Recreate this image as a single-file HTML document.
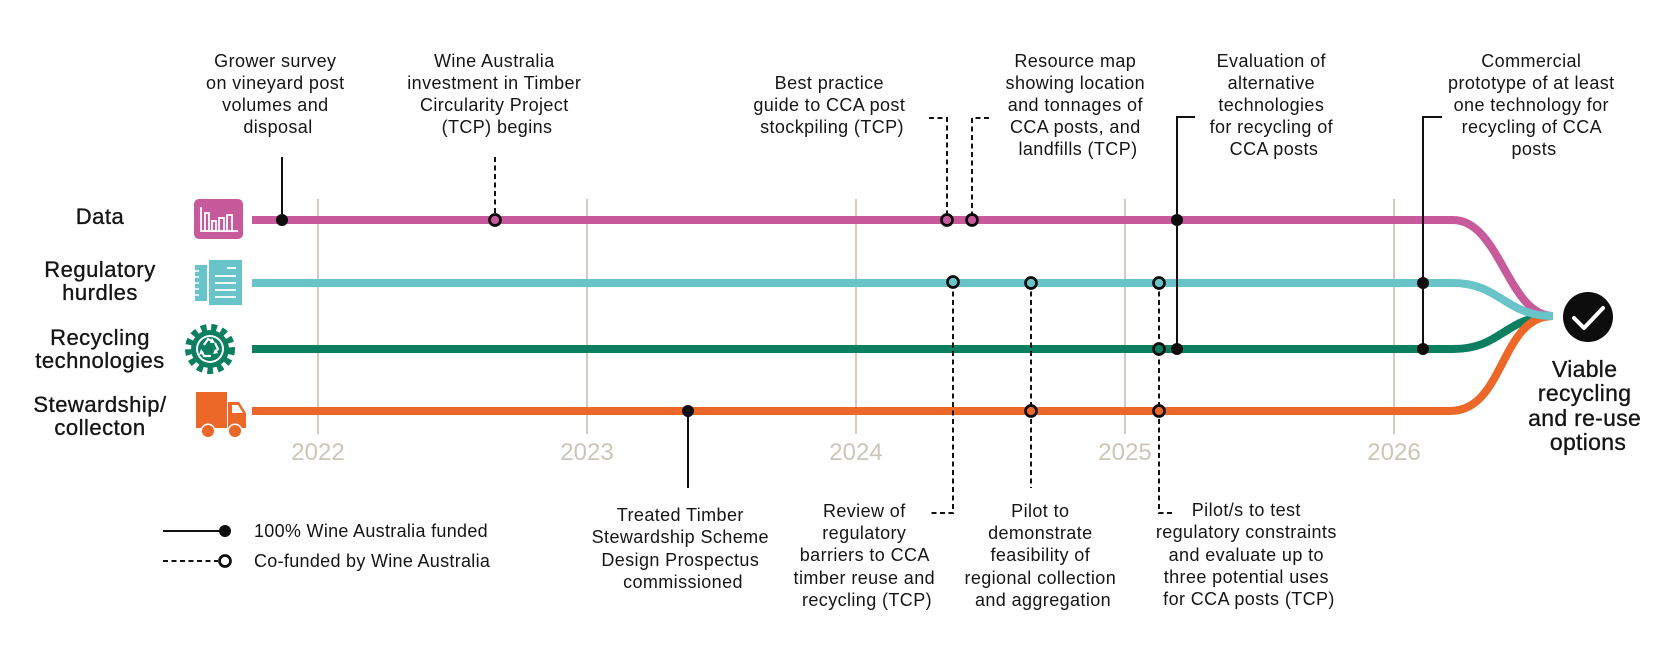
<!DOCTYPE html>
<html>
<head>
<meta charset="utf-8">
<style>
  html, body { margin:0; padding:0; background:#fff; }
  svg { display:block; }
  text { font-family: "Liberation Sans", "DejaVu Sans", sans-serif; fill:#151515; }
  .ann { font-size:18px; text-anchor:middle; letter-spacing:0.4px; }
  .lab { font-size:22px; text-anchor:middle; letter-spacing:0.5px; stroke:#151515; stroke-width:0.35px; }
  .yr { font-size:24px; text-anchor:middle; fill:#cdc5b7; }
  .leg { font-size:18px; letter-spacing:0.3px; }
  .vi { font-size:23px; text-anchor:middle; letter-spacing:0.3px; stroke:#151515; stroke-width:0.35px; }
</style>
</head>
<body>
<svg width="1667" height="667" viewBox="0 0 1667 667" xmlns="http://www.w3.org/2000/svg">
  <rect width="1667" height="667" fill="#fff"/>

  <!-- gridlines -->
  <g stroke="#d3cbbd" stroke-width="2">
    <line x1="318" y1="199" x2="318" y2="434"/>
    <line x1="587" y1="199" x2="587" y2="434"/>
    <line x1="856" y1="199" x2="856" y2="434"/>
    <line x1="1125" y1="199" x2="1125" y2="434"/>
    <line x1="1394" y1="199" x2="1394" y2="434"/>
  </g>
  <text class="yr" x="318" y="460">2022</text>
  <text class="yr" x="587" y="460">2023</text>
  <text class="yr" x="856" y="460">2024</text>
  <text class="yr" x="1125" y="460">2025</text>
  <text class="yr" x="1394" y="460">2026</text>

  <!-- series lines -->
  <g fill="none" stroke-width="8">
    <path d="M252,220 H1453 C1500,220 1508,316 1553,316" stroke="#c65a9b"/>
    <path d="M252,349 H1453 C1502,349 1505,316 1553,316" stroke="#0b7f60"/>
    <path d="M252,411 H1450 C1505,411 1500,316 1553,316" stroke="#eb6829"/>
    <path d="M252,283 H1453 C1500,283 1505,316 1553,316" stroke="#68c4c9"/>
  </g>

  <!-- check circle -->
  <circle cx="1588" cy="317" r="25" fill="#0d0d0d"/>
  <polyline points="1574,318 1584,328 1603,308" fill="none" stroke="#fff" stroke-width="4" stroke-linecap="round" stroke-linejoin="round"/>

  <!-- connectors: solid -->
  <g fill="none" stroke="#111" stroke-width="2">
    <line x1="282" y1="157" x2="282" y2="220"/>
    <polyline points="1195,117 1177,117 1177,349"/>
    <polyline points="1442,117 1423,117 1423,349"/>
    <line x1="688" y1="411" x2="688" y2="488"/>
  </g>
  <!-- connectors: dashed -->
  <g fill="none" stroke="#111" stroke-width="2" stroke-dasharray="5,3.5">
    <line x1="495" y1="157" x2="495" y2="220"/>
    <polyline points="929,118 947,118 947,220"/>
    <polyline points="989,118 972,118 972,220"/>
    <polyline points="953,283 953,513 929,513"/>
    <line x1="1031" y1="283" x2="1031" y2="488"/>
    <polyline points="1159,283 1159,513 1172,513"/>
  </g>

  <!-- solid markers -->
  <g fill="#0d0d0d">
    <circle cx="282" cy="220" r="6"/>
    <circle cx="1177" cy="220" r="6"/>
    <circle cx="1177" cy="349" r="6"/>
    <circle cx="1423" cy="283" r="6"/>
    <circle cx="1423" cy="349" r="6"/>
    <circle cx="688" cy="411" r="6"/>
  </g>
  <!-- hollow markers -->
  <g stroke="#0d0d0d" stroke-width="2.7">
    <circle cx="495" cy="220" r="5.5" fill="#c65a9b"/>
    <circle cx="947" cy="220" r="5.5" fill="#c65a9b"/>
    <circle cx="972" cy="220" r="5.5" fill="#c65a9b"/>
    <circle cx="953" cy="282" r="5.5" fill="#68c4c9"/>
    <circle cx="1031" cy="283" r="5.5" fill="#68c4c9"/>
    <circle cx="1159" cy="283" r="5.5" fill="#68c4c9"/>
    <circle cx="1159" cy="349" r="5.5" fill="#0b7f60"/>
    <circle cx="1031" cy="411" r="5.5" fill="#eb6829"/>
    <circle cx="1159" cy="411" r="5.5" fill="#eb6829"/>
  </g>

  <!-- icons -->
  <!-- data -->
  <rect x="194" y="199" width="49" height="40" rx="5" fill="#c65a9b"/>
  <g fill="none" stroke="#fff" stroke-width="1.8">
    <polyline points="201,207 201,231 238,231"/>
    <rect x="205" y="213" width="4" height="18"/>
    <rect x="212" y="221" width="4" height="10"/>
    <rect x="219" y="218" width="5" height="13"/>
    <rect x="227" y="215" width="5" height="16"/>
  </g>
  <!-- regulatory -->
  <rect x="195" y="265" width="14" height="36" fill="#68c4c9"/>
  <g stroke="#fff" stroke-width="1.5">
    <line x1="195" y1="271" x2="199" y2="271"/>
    <line x1="195" y1="277" x2="199" y2="277"/>
    <line x1="195" y1="283" x2="199" y2="283"/>
    <line x1="195" y1="289" x2="199" y2="289"/>
    <line x1="195" y1="295" x2="199" y2="295"/>
  </g>
  <rect x="207" y="259" width="36" height="47" fill="#fff"/>
  <rect x="209" y="260" width="33" height="45" fill="#68c4c9"/>
  <g stroke="#fff" stroke-width="1.8">
    <line x1="227" y1="268" x2="236" y2="268"/>
    <line x1="215" y1="276" x2="236" y2="276"/>
    <line x1="215" y1="283" x2="236" y2="283"/>
    <line x1="215" y1="290" x2="236" y2="290"/>
    <line x1="215" y1="297" x2="236" y2="297"/>
  </g>
  <!-- gear -->
  <circle cx="210" cy="349" r="21" fill="none" stroke="#0b7f60" stroke-width="8" stroke-dasharray="5.5,4.5"/>
  <circle cx="210" cy="349" r="19" fill="#0b7f60"/>
  <circle cx="210" cy="349" r="14" fill="#fff"/>
  <circle cx="210" cy="349" r="12" fill="#0b7f60"/>
  <g fill="none" stroke="#fff" stroke-width="2.2">
    <path d="M204,345 L208,339 L212,341"/>
    <path d="M215,343 L218,349 L215,352"/>
    <path d="M211,356 L204,356 L202,352"/>
  </g>
  <g fill="#fff">
    <polygon points="212,338 215,343 210,343"/>
    <polygon points="218,353 213,354 215,349"/>
    <polygon points="201,349 204,353 199,355"/>
  </g>
  <!-- truck -->
  <rect x="196" y="392" width="31" height="36" fill="#eb6829"/>
  <polygon points="228,402 239,402 246,413 246,428 228,428" fill="#eb6829"/>
  <polygon points="232,405 238,405 243,413 232,413" fill="#fff"/>
  <circle cx="208" cy="431" r="7.5" fill="#fff"/>
  <circle cx="235" cy="431" r="7.5" fill="#fff"/>
  <circle cx="208" cy="431" r="6" fill="#eb6829"/>
  <circle cx="235" cy="431" r="6" fill="#eb6829"/>

  <!-- left labels -->
  <text class="lab" x="100" y="224">Data</text>
  <text class="lab" x="100" y="277">Regulatory</text>
  <text class="lab" x="100" y="300">hurdles</text>
  <text class="lab" x="100" y="345">Recycling</text>
  <text class="lab" x="100" y="368">technologies</text>
  <text class="lab" x="100" y="412">Stewardship/</text>
  <text class="lab" x="100" y="435">collecton</text>

  <!-- top annotations -->
  <text class="ann">
    <tspan x="278" y="67">Grower survey</tspan>
    <tspan x="278" y="89">on vineyard post</tspan>
    <tspan x="278" y="111">volumes and</tspan>
    <tspan x="278" y="133">disposal</tspan>
  </text>
  <text class="ann">
    <tspan x="497" y="67">Wine Australia</tspan>
    <tspan x="497" y="89">investment in Timber</tspan>
    <tspan x="497" y="111">Circularity Project</tspan>
    <tspan x="497" y="133">(TCP) begins</tspan>
  </text>
  <text class="ann">
    <tspan x="832" y="89">Best practice</tspan>
    <tspan x="832" y="111">guide to CCA post</tspan>
    <tspan x="832" y="133">stockpiling (TCP)</tspan>
  </text>
  <text class="ann">
    <tspan x="1078" y="67">Resource map</tspan>
    <tspan x="1078" y="89">showing location</tspan>
    <tspan x="1078" y="111">and tonnages of</tspan>
    <tspan x="1078" y="133">CCA posts, and</tspan>
    <tspan x="1078" y="155">landfills (TCP)</tspan>
  </text>
  <text class="ann">
    <tspan x="1274" y="67">Evaluation of</tspan>
    <tspan x="1274" y="89">alternative</tspan>
    <tspan x="1274" y="111">technologies</tspan>
    <tspan x="1274" y="133">for recycling of</tspan>
    <tspan x="1274" y="155">CCA posts</tspan>
  </text>
  <text class="ann">
    <tspan x="1534" y="67">Commercial</tspan>
    <tspan x="1534" y="89">prototype of at least</tspan>
    <tspan x="1534" y="111">one technology for</tspan>
    <tspan x="1534" y="133">recycling of CCA</tspan>
    <tspan x="1534" y="155">posts</tspan>
  </text>

  <!-- bottom annotations -->
  <text class="ann">
    <tspan x="683" y="521">Treated Timber</tspan>
    <tspan x="683" y="543">Stewardship Scheme</tspan>
    <tspan x="683" y="566">Design Prospectus</tspan>
    <tspan x="683" y="588">commissioned</tspan>
  </text>
  <text class="ann">
    <tspan x="867" y="517">Review of</tspan>
    <tspan x="867" y="539">regulatory</tspan>
    <tspan x="867" y="561">barriers to CCA</tspan>
    <tspan x="867" y="584">timber reuse and</tspan>
    <tspan x="867" y="606">recycling (TCP)</tspan>
  </text>
  <text class="ann">
    <tspan x="1043" y="517">Pilot to</tspan>
    <tspan x="1043" y="539">demonstrate</tspan>
    <tspan x="1043" y="561">feasibility of</tspan>
    <tspan x="1043" y="584">regional collection</tspan>
    <tspan x="1043" y="606">and aggregation</tspan>
  </text>
  <text class="ann">
    <tspan x="1249" y="516">Pilot/s to test</tspan>
    <tspan x="1249" y="538">regulatory constraints</tspan>
    <tspan x="1249" y="561">and evaluate up to</tspan>
    <tspan x="1249" y="583">three potential uses</tspan>
    <tspan x="1249" y="605">for CCA posts (TCP)</tspan>
  </text>

  <!-- viable -->
  <text class="vi">
    <tspan x="1588" y="377">Viable</tspan>
    <tspan x="1588" y="401">recycling</tspan>
    <tspan x="1588" y="426">and re-use</tspan>
    <tspan x="1588" y="450">options</tspan>
  </text>

  <!-- legend -->
  <line x1="163" y1="531" x2="225" y2="531" stroke="#111" stroke-width="2"/>
  <circle cx="225" cy="531" r="6" fill="#0d0d0d"/>
  <text class="leg" x="254" y="537">100% Wine Australia funded</text>
  <line x1="163" y1="561" x2="218" y2="561" stroke="#111" stroke-width="2" stroke-dasharray="5,3.5"/>
  <circle cx="225" cy="561" r="5.5" fill="#fff" stroke="#0d0d0d" stroke-width="2.7"/>
  <text class="leg" x="254" y="567">Co-funded by Wine Australia</text>
</svg>
</body>
</html>
